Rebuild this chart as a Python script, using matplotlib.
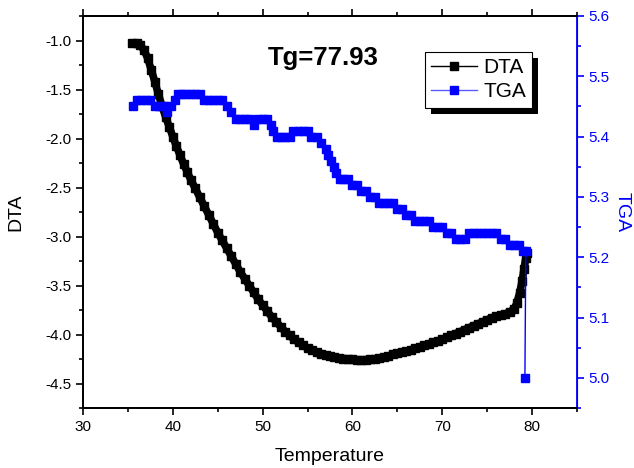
import matplotlib
matplotlib.use("Agg")
import matplotlib.pyplot as plt
from matplotlib.lines import Line2D
from matplotlib.patches import Rectangle
from matplotlib.ticker import MultipleLocator

plt.rcParams['font.family'] = ['Liberation Sans', 'DejaVu Sans']

dta_temp = [35.5, 36.0, 36.4, 36.8, 37.2, 37.6, 38.0, 38.4, 38.8, 39.2, 39.6, 40.0, 40.4, 40.8,
            41.2, 41.6, 42.0, 42.5, 43.0, 43.5, 44.0, 44.5, 45.0, 45.5, 46.0, 46.5, 47.0, 47.5,
            48.0, 48.5, 49.0, 49.5, 50.0, 50.5, 51.0, 51.5, 52.0, 52.5, 53.0, 53.5, 54.0, 54.5,
            55.0, 55.5, 56.0, 56.5, 57.0, 57.5, 58.0, 58.5, 59.0, 59.5, 60.0, 60.5, 61.0, 61.5,
            62.0, 62.5, 63.0, 63.5, 64.0, 64.5, 65.0, 65.5, 66.0, 66.5, 67.0, 67.5, 68.0, 68.5,
            69.0, 69.5, 70.0, 70.5, 71.0, 71.5, 72.0, 72.5, 73.0, 73.5, 74.0, 74.5, 75.0, 75.5,
            76.0, 76.5, 77.0, 77.5, 78.0, 78.3, 78.6, 78.9, 79.1, 79.3, 79.4]
dta_vals = [-1.03, -1.03, -1.05, -1.10, -1.18, -1.30, -1.42, -1.55, -1.67, -1.78, -1.88, -1.98, -2.08, -2.17,
            -2.26, -2.34, -2.42, -2.51, -2.60, -2.69, -2.78, -2.87, -2.96, -3.04, -3.12, -3.20, -3.28, -3.36,
            -3.43, -3.50, -3.57, -3.64, -3.70, -3.76, -3.82, -3.87, -3.92, -3.97, -4.01, -4.05, -4.08, -4.11,
            -4.14, -4.16, -4.18, -4.20, -4.21, -4.22, -4.23, -4.24, -4.245, -4.25, -4.255, -4.26, -4.26, -4.26,
            -4.255, -4.25, -4.24, -4.23, -4.22, -4.20, -4.19, -4.18, -4.17, -4.155, -4.14, -4.125, -4.11, -4.095,
            -4.08, -4.065, -4.05, -4.03, -4.01, -3.99, -3.97, -3.95, -3.93, -3.91, -3.89, -3.87, -3.85, -3.83,
            -3.815, -3.80, -3.79, -3.77, -3.74, -3.68, -3.58, -3.45, -3.33, -3.22, -3.17]

tga_temp = [35.6, 36.0, 36.5, 37.0, 37.5, 38.0, 38.5, 39.0, 39.4, 39.8, 40.2, 40.6, 41.0, 41.5, 42.0,
            42.5, 43.0, 43.5, 44.0, 44.5, 45.0, 45.5, 46.0, 46.5, 47.0, 47.5, 48.0, 48.5, 49.0, 49.5,
            50.0, 50.5, 50.9, 51.2, 51.6, 52.0, 52.5, 53.0, 53.4, 54.0, 54.5, 55.0, 55.4, 56.0, 56.5,
            57.0, 57.3, 57.6, 57.9, 58.2, 58.6, 59.0, 59.5, 60.0, 60.5, 61.0, 61.5, 62.0, 62.5, 63.0,
            63.5, 64.0, 64.5, 65.0, 65.5, 66.0, 66.5, 67.0, 67.5, 68.0, 68.5, 69.0, 69.5, 70.0, 70.5,
            71.0, 71.5, 72.0, 72.5, 73.0, 73.5, 74.0, 74.5, 75.0, 75.5, 76.0, 76.5, 77.0, 77.5, 78.0,
            78.5, 79.0, 79.3, 79.2]
tga_vals = [5.45, 5.46, 5.46, 5.46, 5.46, 5.45, 5.45, 5.45, 5.44, 5.45, 5.46, 5.47, 5.47, 5.47, 5.47,
            5.47, 5.47, 5.46, 5.46, 5.46, 5.46, 5.46, 5.45, 5.44, 5.43, 5.43, 5.43, 5.43, 5.42, 5.43,
            5.43, 5.43, 5.42, 5.41, 5.40, 5.40, 5.40, 5.40, 5.41, 5.41, 5.41, 5.41, 5.40, 5.40, 5.39,
            5.38, 5.37, 5.36, 5.35, 5.34, 5.33, 5.33, 5.33, 5.32, 5.32, 5.31, 5.31, 5.30, 5.30, 5.29,
            5.29, 5.29, 5.29, 5.28, 5.28, 5.27, 5.27, 5.26, 5.26, 5.26, 5.26, 5.25, 5.25, 5.25, 5.24,
            5.24, 5.23, 5.23, 5.23, 5.24, 5.24, 5.24, 5.24, 5.24, 5.24, 5.24, 5.23, 5.23, 5.22, 5.22,
            5.22, 5.21, 5.21, 5.00]

annotation = "Tg=77.93"
BLUE = '#0000ff'

fig = plt.figure(figsize=(6.34, 4.68), dpi=100)
ax = fig.add_axes([83/634, 1 - 408/468, 494/634, 392/468])
ax2 = ax.twinx()

ax.plot(dta_temp, dta_vals, color='black', lw=5.5, marker='s', ms=5.5,
        solid_joinstyle='round', solid_capstyle='round')
ax2.plot(tga_temp, tga_vals, color=BLUE, lw=1, marker='s', ms=5.5, mec=BLUE, mfc=BLUE)

ax.set_xlim(30, 85)
ax.set_ylim(-4.75, -0.75)
ax2.set_ylim(4.95, 5.6)

ax.xaxis.set_major_locator(MultipleLocator(10))
ax.xaxis.set_minor_locator(MultipleLocator(5))
ax.yaxis.set_minor_locator(MultipleLocator(0.25))
ax.set_yticks([-1.0, -1.5, -2.0, -2.5, -3.0, -3.5, -4.0, -4.5])
ax.set_yticklabels(['-1.0', '-1.5', '-2.0', '-2.5', '-3.0', '-3.5', '-4.0', '-4.5'])
ax2.yaxis.set_minor_locator(MultipleLocator(0.05))
ax2.set_yticks([5.0, 5.1, 5.2, 5.3, 5.4, 5.5, 5.6])

ax.tick_params(axis='both', which='major', direction='out', length=5, width=1.2, labelsize=11)
ax.tick_params(axis='both', which='minor', direction='out', length=3, width=1.2)
ax.tick_params(axis='x', which='both', top=True)
ax2.tick_params(axis='y', which='major', direction='out', length=5, width=1.2, labelsize=11,
                colors=BLUE)
ax2.tick_params(axis='y', which='minor', direction='out', length=3, width=1.2, colors=BLUE)

for s in ['left', 'bottom', 'top']:
    ax.spines[s].set_linewidth(1.3)
    ax2.spines[s].set_linewidth(1.3)
ax2.spines['right'].set_color(BLUE)
ax2.spines['right'].set_linewidth(1.3)

ax.set_xlabel('Temperature', fontsize=14, labelpad=10)
ax.set_ylabel('DTA', fontsize=14, labelpad=15)
ax2.set_ylabel('TGA', fontsize=14, color=BLUE, rotation=270, labelpad=15)

ax.text(0.486, 0.894, annotation, transform=ax.transAxes, ha='center', va='center',
        fontsize=18.5, fontweight='bold')

handles = [Line2D([], [], color='black', lw=1, marker='s', ms=6),
           Line2D([], [], color='#5a5aff', lw=1, marker='s', ms=6, mfc=BLUE, mec=BLUE)]
leg = ax2.legend(handles, ['DTA', 'TGA'], loc='upper left',
                 bbox_to_anchor=(425/634, 1 - 52/468), bbox_transform=fig.transFigure,
                 fontsize=15, frameon=True, fancybox=False, edgecolor='black',
                 facecolor='white', framealpha=1,
                 borderaxespad=0, borderpad=0.3, labelspacing=0.25, handlelength=2.2,
                 handletextpad=0.3, numpoints=1)
leg.get_frame().set_linewidth(0.8)
leg.set_zorder(6)

fig.canvas.draw()
bb = leg.get_window_extent().transformed(ax2.transAxes.inverted())
dx = 6 / 494
dy = 6 / 392
ax2.add_patch(Rectangle((bb.x0 + dx, bb.y0 - dy), bb.width, bb.height, transform=ax2.transAxes,
                        facecolor='black', edgecolor='none', zorder=5.5, clip_on=False))

fig.savefig('out.png', dpi=100)
